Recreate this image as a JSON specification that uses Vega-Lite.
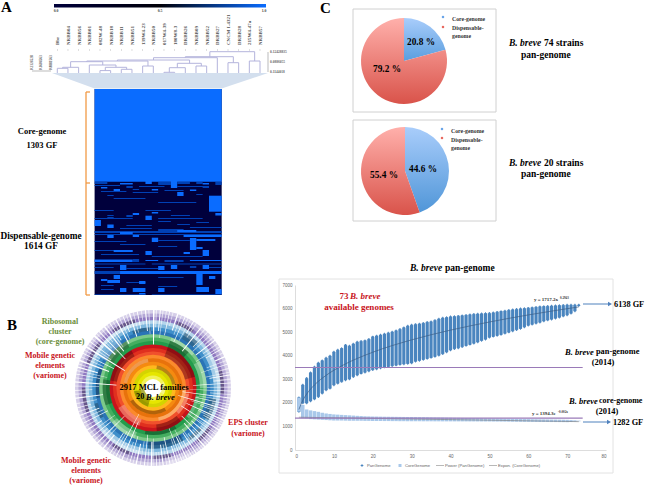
{"$schema":"https://vega.github.io/schema/vega-lite/v6.json","width":645,"height":485,"padding":0,"autosize":{"type":"none"},"background":"white",
"config":{"view":{"stroke":null},"text":{"font":"Liberation Serif","fontWeight":"bold"}},
"resolve":{"scale":{"x":"independent","y":"independent","theta":"independent","radius":"independent","color":"independent"},"axis":{"x":"independent","y":"independent"}},
"datasets":{"tree":[{"a":0,"b":1,"h":4.7,"ha":0,"hb":0},{"a":0.5,"b":2,"h":5.7,"ha":4.7,"hb":0},{"a":4,"b":5,"h":2.4,"ha":0,"hb":0},{"a":6,"b":7,"h":3.7,"ha":0,"hb":0},{"a":4.5,"b":6.5,"h":5.7,"ha":2.4,"hb":3.7},{"a":3,"b":5.5,"h":8,"ha":0,"hb":5.7},{"a":1.25,"b":4.26,"h":11.3,"ha":5.7,"hb":8},{"a":8,"b":9,"h":7,"ha":0,"hb":0},{"a":10,"b":11,"h":0.7,"ha":0,"hb":0},{"a":10.5,"b":12,"h":5.3,"ha":0.7,"hb":0},{"a":13,"b":14,"h":7,"ha":0,"hb":0},{"a":11.25,"b":13.5,"h":9.7,"ha":5.3,"hb":7},{"a":2.76,"b":8.5,"h":12,"ha":11.3,"hb":7},{"a":5.63,"b":12.4,"h":13,"ha":12,"hb":9.7},{"a":9.02,"b":15,"h":15.3,"ha":13,"hb":0},{"a":16,"b":17,"h":10.3,"ha":0,"hb":0},{"a":18,"b":19,"h":12,"ha":0,"hb":0},{"a":12,"b":16.5,"h":16.3,"ha":15.3,"hb":10.3},{"a":14.3,"b":18.5,"h":21.3,"ha":16.3,"hb":12}],
"strains":[{"c":0,"t":"Bbr"},{"c":1,"t":"NRBB04"},{"c":2,"t":"NRBB56"},{"c":3,"t":"NRBB01"},{"c":4,"t":"082W-48"},{"c":5,"t":"NRBB18"},{"c":6,"t":"NRBB11"},{"c":7,"t":"NRBB51"},{"c":8,"t":"139W4-23"},{"c":9,"t":"NRBB50"},{"c":10,"t":"017W4-39"},{"c":11,"t":"180W8-3"},{"c":12,"t":"DRBB26"},{"c":13,"t":"NRBB09"},{"c":14,"t":"NRBB52"},{"c":15,"t":"DRBB27"},{"c":16,"t":"CNCM I-4321"},{"c":17,"t":"DRBB28"},{"c":18,"t":"215W4-47a"},{"c":19,"t":"NRBB57"}],
"pan":[{"x":1,"lo":1630,"hi":2220,"cl":1630,"ch":2220},{"x":2,"lo":1990,"hi":2760,"cl":1350,"ch":1910},{"x":3,"lo":1990,"hi":3040,"cl":1340,"ch":1720},{"x":4,"lo":2080,"hi":3280,"cl":1310,"ch":1680},{"x":5,"lo":2160,"hi":3520,"cl":1300,"ch":1650},{"x":6,"lo":2260,"hi":3690,"cl":1290,"ch":1620},{"x":7,"lo":2410,"hi":3790,"cl":1280,"ch":1580},{"x":8,"lo":2545,"hi":3900,"cl":1270,"ch":1550},{"x":9,"lo":2615,"hi":3990,"cl":1260,"ch":1530},{"x":10,"lo":2760,"hi":4160,"cl":1250,"ch":1510},{"x":11,"lo":2830,"hi":4240,"cl":1250,"ch":1500},{"x":12,"lo":2900,"hi":4310,"cl":1250,"ch":1490},{"x":13,"lo":2970,"hi":4450,"cl":1245,"ch":1480},{"x":14,"lo":3010,"hi":4410,"cl":1240,"ch":1470},{"x":15,"lo":3110,"hi":4500,"cl":1240,"ch":1460},{"x":16,"lo":3180,"hi":4580,"cl":1240,"ch":1450},{"x":17,"lo":3250,"hi":4610,"cl":1240,"ch":1440},{"x":18,"lo":3300,"hi":4640,"cl":1235,"ch":1430},{"x":19,"lo":3350,"hi":4700,"cl":1235,"ch":1425},{"x":20,"lo":3400,"hi":4800,"cl":1230,"ch":1420},{"x":21,"lo":3440,"hi":4840,"cl":1230,"ch":1418},{"x":22,"lo":3480,"hi":4880,"cl":1230,"ch":1415},{"x":23,"lo":3520,"hi":4920,"cl":1228,"ch":1412},{"x":24,"lo":3540,"hi":4960,"cl":1228,"ch":1410},{"x":25,"lo":3570,"hi":5010,"cl":1225,"ch":1408},{"x":26,"lo":3600,"hi":5060,"cl":1225,"ch":1406},{"x":27,"lo":3630,"hi":5120,"cl":1222,"ch":1404},{"x":28,"lo":3650,"hi":5190,"cl":1222,"ch":1402},{"x":29,"lo":3670,"hi":5260,"cl":1220,"ch":1400},{"x":30,"lo":3690,"hi":5300,"cl":1220,"ch":1400},{"x":31,"lo":3760,"hi":5330,"cl":1220,"ch":1396},{"x":32,"lo":3800,"hi":5350,"cl":1220,"ch":1394},{"x":33,"lo":3840,"hi":5380,"cl":1218,"ch":1392},{"x":34,"lo":3880,"hi":5420,"cl":1218,"ch":1388},{"x":35,"lo":3920,"hi":5440,"cl":1218,"ch":1385},{"x":36,"lo":3970,"hi":5500,"cl":1216,"ch":1382},{"x":37,"lo":4020,"hi":5560,"cl":1216,"ch":1380},{"x":38,"lo":4080,"hi":5600,"cl":1215,"ch":1376},{"x":39,"lo":4160,"hi":5620,"cl":1215,"ch":1372},{"x":40,"lo":4240,"hi":5650,"cl":1215,"ch":1370},{"x":41,"lo":4290,"hi":5660,"cl":1214,"ch":1366},{"x":42,"lo":4330,"hi":5680,"cl":1214,"ch":1364},{"x":43,"lo":4380,"hi":5700,"cl":1213,"ch":1360},{"x":44,"lo":4430,"hi":5720,"cl":1213,"ch":1358},{"x":45,"lo":4480,"hi":5740,"cl":1212,"ch":1355},{"x":46,"lo":4530,"hi":5760,"cl":1212,"ch":1352},{"x":47,"lo":4580,"hi":5770,"cl":1211,"ch":1350},{"x":48,"lo":4640,"hi":5780,"cl":1211,"ch":1346},{"x":49,"lo":4700,"hi":5790,"cl":1210,"ch":1343},{"x":50,"lo":4780,"hi":5800,"cl":1210,"ch":1340},{"x":51,"lo":4820,"hi":5820,"cl":1208,"ch":1336},{"x":52,"lo":4860,"hi":5850,"cl":1206,"ch":1334},{"x":53,"lo":4900,"hi":5880,"cl":1205,"ch":1330},{"x":54,"lo":4950,"hi":5900,"cl":1204,"ch":1328},{"x":55,"lo":5000,"hi":5930,"cl":1202,"ch":1325},{"x":56,"lo":5050,"hi":5950,"cl":1200,"ch":1322},{"x":57,"lo":5100,"hi":5970,"cl":1198,"ch":1320},{"x":58,"lo":5150,"hi":5990,"cl":1196,"ch":1316},{"x":59,"lo":5220,"hi":6000,"cl":1195,"ch":1313},{"x":60,"lo":5290,"hi":6020,"cl":1194,"ch":1310},{"x":61,"lo":5330,"hi":6040,"cl":1192,"ch":1306},{"x":62,"lo":5380,"hi":6060,"cl":1190,"ch":1304},{"x":63,"lo":5420,"hi":6080,"cl":1189,"ch":1300},{"x":64,"lo":5470,"hi":6090,"cl":1188,"ch":1298},{"x":65,"lo":5510,"hi":6100,"cl":1187,"ch":1295},{"x":66,"lo":5550,"hi":6110,"cl":1186,"ch":1292},{"x":67,"lo":5590,"hi":6120,"cl":1185,"ch":1290},{"x":68,"lo":5630,"hi":6130,"cl":1184,"ch":1287},{"x":69,"lo":5680,"hi":6140,"cl":1182,"ch":1284},{"x":70,"lo":5730,"hi":6150,"cl":1180,"ch":1280},{"x":71,"lo":5800,"hi":6150,"cl":1190,"ch":1270},{"x":72,"lo":5900,"hi":6150,"cl":1200,"ch":1260},{"x":73,"lo":6125,"hi":6150,"cl":1215,"ch":1245}]},
"layer":[
{"data":{"values":[{"u":353,"p":496,"v":9,"w":112},{"u":353,"p":496,"v":120,"w":221}]},"mark":{"type":"rect","fill":null,"stroke":"#d0d0d0","strokeWidth":1},"encoding":{"x":{"field":"u","type":"quantitative","scale":{"domain":[0,645],"range":[0,645]},"axis":null},"x2":{"field":"p"},"y":{"field":"v","type":"quantitative","scale":{"domain":[0,485],"range":[0,485]},"axis":null},"y2":{"field":"w"}}},
{"data":{"values":[{"u":279,"p":613,"v":279,"w":473}]},"mark":{"type":"rect","fill":null,"stroke":"#e2e2e2","strokeWidth":1},"encoding":{"x":{"field":"u","type":"quantitative","scale":{"domain":[0,645],"range":[0,645]},"axis":null},"x2":{"field":"p"},"y":{"field":"v","type":"quantitative","scale":{"domain":[0,485],"range":[0,485]},"axis":null},"y2":{"field":"w"}}},
{"data":{"values":[{"u":54,"p":266,"v":4,"w":7.5}]},"mark":{"type":"rect","color":{"gradient":"linear","x1":0,"x2":1,"y1":0,"y2":0,"stops":[{"offset":0,"color":"#00003a"},{"offset":0.5,"color":"#000008"},{"offset":1,"color":"#0a6cff"}]}},"encoding":{"x":{"field":"u","type":"quantitative","scale":{"domain":[0,645],"range":[0,645]},"axis":null},"x2":{"field":"p"},"y":{"field":"v","type":"quantitative","scale":{"domain":[0,485],"range":[0,485]},"axis":null},"y2":{"field":"w"}}},
{"data":{"values":[{"u":52,"v":73,"w":73},{"u":94.6,"v":73,"w":88.5},{"u":221.7,"v":73,"w":88.5},{"u":268,"v":73,"w":73}]},"mark":{"type":"area","color":"#d3dfee"},"encoding":{"x":{"field":"u","type":"quantitative","scale":{"domain":[0,645],"range":[0,645]},"axis":null},"y":{"field":"v","type":"quantitative","scale":{"domain":[0,485],"range":[0,485]},"axis":null},"y2":{"field":"w"}}},
{"data":{"values":[
{"c":0,"d":20,"r":0,"s":206,"l":"d"},{"c":0,"d":20,"r":0,"s":92.7,"l":"h"},
{"c":0,"d":2,"r":92.7,"s":95,"l":"m"},{"c":4,"d":6,"r":94,"s":95.5,"l":"h"},{"c":10,"d":12,"r":93,"s":96,"l":"m"},{"c":12,"d":13,"r":92,"s":99,"l":"h"},{"c":13,"d":15,"r":93,"s":95,"l":"m"},{"c":8,"d":9,"r":92,"s":95,"l":"h"},{"c":16,"d":17,"r":93,"s":95,"l":"m"},{"c":19,"d":20,"r":93,"s":96,"l":"m"},
{"c":1,"d":2,"r":98,"s":99.5,"l":"h"},{"c":3,"d":4,"r":100,"s":102,"l":"h"},{"c":5,"d":6,"r":97,"s":99,"l":"m"},{"c":6,"d":7,"r":100,"s":101,"l":"m"},{"c":9,"d":10,"r":100,"s":101.5,"l":"h"},{"c":15,"d":16,"r":100.5,"s":102,"l":"h"},{"c":17,"d":18,"r":98,"s":99,"l":"m"},{"c":17,"d":18,"r":94,"s":95.5,"l":"h"},
{"c":13,"d":14,"r":103,"s":107,"l":"h"},{"c":2,"d":3,"r":106,"s":107,"l":"m"},{"c":6,"d":10,"r":103,"s":104,"l":"m"},{"c":16,"d":17,"r":105,"s":106,"l":"m"},{"c":18,"d":20,"r":106.7,"s":122.7,"l":"h"},
{"c":0,"d":3,"r":121,"s":122,"l":"m"},{"c":8,"d":12,"r":121,"s":122,"l":"m"},{"c":6,"d":7,"r":124,"s":126,"l":"h"},{"c":8,"d":9,"r":126.7,"s":131,"l":"h"},{"c":9,"d":10,"r":123,"s":124.5,"l":"h"},{"c":19,"d":20,"r":124,"s":126.5,"l":"h"},{"c":2,"d":3,"r":126,"s":127,"l":"m"},{"c":12,"d":15,"r":126,"s":127,"l":"m"},{"c":5,"d":6,"r":126,"s":128,"l":"m"},
{"c":0,"d":1,"r":131,"s":137,"l":"h"},{"c":2,"d":3,"r":135.5,"s":139,"l":"h"},{"c":2,"d":3,"r":128,"s":129,"l":"m"},{"c":10,"d":12,"r":132,"s":133,"l":"m"},{"c":13,"d":15,"r":135,"s":136,"l":"m"},{"c":5,"d":9,"r":136,"s":137,"l":"m"},{"c":16,"d":18,"r":133,"s":134,"l":"m"},
{"c":10,"d":14,"r":140,"s":142,"l":"m"},{"c":0,"d":20,"r":142,"s":144,"l":"m"},{"c":4,"d":6,"r":143,"s":145,"l":"h"},{"c":13,"d":16,"r":141,"s":143,"l":"h"},{"c":0,"d":20,"r":145,"s":146,"l":"m"},
{"c":0,"d":4,"r":96,"s":97,"l":"m"},{"c":7,"d":11,"r":97,"s":98,"l":"m"},{"c":13,"d":18,"r":97,"s":98,"l":"m"},{"c":1,"d":5,"r":102,"s":103,"l":"m"},{"c":11,"d":14,"r":101,"s":102,"l":"m"},{"c":3,"d":8,"r":109,"s":110,"l":"m"},{"c":10,"d":16,"r":113,"s":114,"l":"m"},{"c":0,"d":6,"r":129,"s":130,"l":"m"},{"c":10,"d":17,"r":129,"s":130,"l":"m"},{"c":4,"d":9,"r":139,"s":140,"l":"m"},{"c":15,"d":20,"r":138,"s":139,"l":"m"},
{"c":2,"d":3,"r":146,"s":149,"l":"h"},{"c":6,"d":7,"r":146,"s":148,"l":"h"},{"c":9,"d":10,"r":148.7,"s":153,"l":"h"},{"c":14,"d":20,"r":146,"s":148,"l":"h"},{"c":15,"d":16,"r":149,"s":161,"l":"h"},{"c":16,"d":19,"r":150,"s":152,"l":"h"},{"c":16,"d":17,"r":158,"s":160,"l":"h"},
{"c":0,"d":4,"r":161,"s":162,"l":"m"},{"c":3,"d":6,"r":161,"s":163,"l":"h"},{"c":8,"d":9,"r":162,"s":166,"l":"h"},{"c":17,"d":18,"r":161,"s":167,"l":"h"},{"c":14,"d":15,"r":163,"s":165,"l":"h"},{"c":4,"d":8,"r":155,"s":156,"l":"m"},{"c":10,"d":13,"r":157,"s":158,"l":"m"},
{"c":0,"d":5,"r":152,"s":153,"l":"m"},{"c":10,"d":15,"r":151,"s":152,"l":"m"},{"c":1,"d":7,"r":165,"s":166,"l":"m"},{"c":9,"d":17,"r":167,"s":168,"l":"m"},{"c":0,"d":8,"r":174.5,"s":175.5,"l":"m"},{"c":9,"d":20,"r":174.5,"s":175.5,"l":"m"},{"c":5,"d":10,"r":179,"s":180,"l":"m"},{"c":18,"d":20,"r":178,"s":179,"l":"m"},{"c":0,"d":3,"r":178,"s":179,"l":"m"},
{"c":0,"d":6,"r":170.5,"s":173,"l":"h"},{"c":6,"d":7,"r":170,"s":173,"l":"m"},{"c":8,"d":10,"r":171,"s":172,"l":"h"},{"c":11,"d":14,"r":171,"s":173,"l":"m"},{"c":15,"d":20,"r":171,"s":172,"l":"h"},
{"c":4,"d":5,"r":176,"s":181,"l":"h"},{"c":10,"d":11,"r":177,"s":181,"l":"h"},{"c":12,"d":13,"r":176,"s":180,"l":"h"},{"c":15,"d":16,"r":177,"s":179,"l":"m"},{"c":17,"d":18,"r":176,"s":180,"l":"h"},
{"c":0,"d":4,"r":182,"s":185,"l":"m"},{"c":4,"d":20,"r":182,"s":185,"l":"h"},{"c":16,"d":17,"r":185,"s":196,"l":"h"},{"c":3,"d":4,"r":186,"s":190,"l":"h"},{"c":18,"d":19,"r":187,"s":190,"l":"h"},{"c":1,"d":2,"r":190,"s":192,"l":"h"},{"c":2,"d":4,"r":191,"s":194,"l":"h"},{"c":5,"d":8,"r":193,"s":194,"l":"m"},{"c":10,"d":14,"r":188,"s":189,"l":"m"},{"c":7,"d":8,"r":192,"s":195,"l":"h"},
{"c":4,"d":5,"r":199,"s":203,"l":"h"},{"c":6,"d":8,"r":199,"s":203,"l":"h"},{"c":10,"d":11,"r":199,"s":203,"l":"h"},{"c":1,"d":3,"r":200,"s":201,"l":"m"},{"c":16,"d":18,"r":198,"s":203,"l":"h"},{"c":19,"d":20,"r":200,"s":205,"l":"h"},{"c":7,"d":8,"r":204,"s":206,"l":"h"},{"c":1,"d":3,"r":196,"s":197,"l":"m"},{"c":10,"d":13,"r":197,"s":198,"l":"m"},{"c":0,"d":8,"r":205.2,"s":206,"l":"m"},{"c":9,"d":20,"r":205.2,"s":206,"l":"m"}
]},"mark":{"type":"rect"},"encoding":{"x":{"field":"c","type":"quantitative","scale":{"domain":[0,20],"range":[94.6,221.7]},"axis":null},"x2":{"field":"d"},"y":{"field":"r","type":"quantitative","scale":{"domain":[0,206],"range":[89,295]},"axis":null},"y2":{"field":"s"},"color":{"field":"l","type":"nominal","legend":null,"sort":null,"scale":{"domain":["d","m","h"],"range":["#00003c","#0040b4","#0a6cff"]}}}},
{"data":{"values":[{"u":86,"p":86,"v":92,"w":295},{"u":86,"p":90,"v":92,"w":92},{"u":86,"p":90,"v":183,"w":183},{"u":86,"p":90,"v":295,"w":295}]},"mark":{"type":"rule","color":"#f29a45","strokeWidth":1.3},"encoding":{"x":{"field":"u","type":"quantitative","scale":{"domain":[0,645],"range":[0,645]},"axis":null},"x2":{"field":"p"},"y":{"field":"v","type":"quantitative","scale":{"domain":[0,485],"range":[0,485]},"axis":null},"y2":{"field":"w"}}},
{"data":{"values":[{"u":32,"p":51,"v":71,"w":71},{"u":268,"p":268,"v":52,"w":72}]},"mark":{"type":"rule","color":"#bbbbbb","strokeWidth":1},"encoding":{"x":{"field":"u","type":"quantitative","scale":{"domain":[0,645],"range":[0,645]},"axis":null},"x2":{"field":"p"},"y":{"field":"v","type":"quantitative","scale":{"domain":[0,485],"range":[0,485]},"axis":null},"y2":{"field":"w"}}},
{"data":{"name":"tree"},"mark":{"type":"rule","color":"#b4b4dc","strokeWidth":1},"encoding":{"x":{"field":"a","type":"quantitative","scale":{"domain":[0,19],"range":[57.3,260]},"axis":null},"x2":{"field":"b"},"y":{"field":"h","type":"quantitative","scale":{"domain":[0,24],"range":[73,49]},"axis":null}}},
{"data":{"name":"tree"},"mark":{"type":"rule","color":"#b4b4dc","strokeWidth":1},"encoding":{"x":{"field":"a","type":"quantitative","scale":{"domain":[0,19],"range":[57.3,260]},"axis":null},"y":{"field":"h","type":"quantitative","scale":{"domain":[0,24],"range":[73,49]},"axis":null},"y2":{"field":"ha"}}},
{"data":{"name":"tree"},"mark":{"type":"rule","color":"#b4b4dc","strokeWidth":1},"encoding":{"x":{"field":"b","type":"quantitative","scale":{"domain":[0,19],"range":[57.3,260]},"axis":null},"y":{"field":"h","type":"quantitative","scale":{"domain":[0,24],"range":[73,49]},"axis":null},"y2":{"field":"hb"}}},
{"data":{"name":"strains"},"mark":{"type":"text","angle":270,"align":"left","baseline":"middle","fontSize":5,"color":"#555555"},"encoding":{"x":{"field":"c","type":"quantitative","scale":{"domain":[0,19],"range":[57.3,260]},"axis":null},"y":{"datum":45,"type":"quantitative","scale":{"domain":[0,485],"range":[0,485]},"axis":null},"text":{"field":"t"}}},
{"data":{"name":"strains"},"mark":{"type":"tick","orient":"vertical","size":1.5,"thickness":0.6,"color":"#999999"},"encoding":{"x":{"field":"c","type":"quantitative","scale":{"domain":[0,19],"range":[57.3,260]},"axis":null},"y":{"datum":50,"type":"quantitative","scale":{"domain":[0,485],"range":[0,485]},"axis":null}}},
{"data":{"values":[{"i":"20","t0":-3,"t1":20,"a":0,"b":360},{"i":"19","t0":-3,"t1":19,"a":0,"b":360},{"i":"18","t0":-3,"t1":18,"a":0,"b":360},{"i":"17","t0":-3,"t1":17,"a":0,"b":360},{"i":"16","t0":-3,"t1":16,"a":0,"b":360},{"i":"15","t0":-3,"t1":15,"a":0,"b":360},{"i":"14","t0":-3,"t1":14,"a":0,"b":360},{"i":"13","t0":-3,"t1":13,"a":0,"b":360},{"i":"12","t0":-3,"t1":12,"a":0,"b":360},{"i":"11","t0":-3,"t1":11,"a":0,"b":360},{"i":"10","t0":-3,"t1":10,"a":0,"b":360},{"i":"09","t0":-3,"t1":9,"a":0,"b":360},{"i":"08","t0":-3,"t1":8,"a":0,"b":360},{"i":"07","t0":-3,"t1":7,"a":0,"b":360},{"i":"06","t0":-3,"t1":6,"a":0,"b":360},{"i":"05","t0":-3,"t1":5,"a":0,"b":360},{"i":"04","t0":-3,"t1":4,"a":0,"b":360},{"i":"03","t0":-3,"t1":3,"a":0,"b":360},{"i":"02","t0":-3,"t1":2,"a":0,"b":360},{"i":"01","t0":-3,"t1":1,"a":0,"b":360},{"i":"00","t0":-3,"t1":0,"a":0,"b":360}]},"mark":{"type":"arc"},"encoding":{"x":{"datum":153,"type":"quantitative","scale":{"domain":[0,645],"range":[0,645]},"axis":null},"y":{"datum":388,"type":"quantitative","scale":{"domain":[0,485],"range":[0,485]},"axis":null},"theta":{"field":"a","type":"quantitative","scale":{"domain":[0,360],"range":[0,6.2832]}},"theta2":{"field":"b"},"radius":{"field":"t1","type":"quantitative","scale":{"type":"linear","domain":[0,20],"range":[9,78]}},"radius2":{"field":"t0"},"color":{"field":"i","type":"nominal","legend":null,"scale":{"domain":["00","01","02","03","04","05","06","07","08","09","10","11","12","13","14","15","16","17","18","19","20"],"range":["#ffffff","#f2f25a","#e6e600","#d4d400","#ffb81e","#f58a10","#e8720c","#fb8a2c","#f0502c","#e0301f","#c8141c","#239c4c","#45ae60","#7cc98a","#2a74b6","#3f8fca","#7fb8de","#b5d6ec","#8e78c0","#b3a6d6","#d6cfe9"]}}}},
{"data":{"values":[{"t0":0,"t1":3,"a":195,"b":260,"k":"dark"},{"t0":0,"t1":1,"a":60,"b":120,"k":"light"},{"t0":3,"t1":4,"a":10,"b":80,"k":"dark"},{"t0":4,"t1":5,"a":150,"b":240,"k":"dark"},{"t0":5,"t1":6,"a":280,"b":350,"k":"light"},{"t0":6,"t1":7,"a":90,"b":170,"k":"light"},{"t0":7,"t1":10,"a":20,"b":75,"k":"dark"},{"t0":8,"t1":10,"a":140,"b":175,"k":"dark"},{"t0":7,"t1":9,"a":200,"b":240,"k":"light"},{"t0":8,"t1":10,"a":280,"b":330,"k":"dark"},{"t0":7,"t1":8,"a":100,"b":135,"k":"light"},{"t0":10,"t1":12,"a":250,"b":280,"k":"dark"},{"t0":10,"t1":11,"a":150,"b":190,"k":"dark"},{"t0":11,"t1":13,"a":300,"b":330,"k":"dark"},{"t0":11,"t1":13,"a":60,"b":90,"k":"light"},{"t0":12,"t1":13,"a":20,"b":50,"k":"light"},{"t0":10,"t1":12,"a":20,"b":45,"k":"dark"},{"t0":11,"t1":13,"a":200,"b":230,"k":"light"},{"t0":10,"t1":11,"a":100,"b":130,"k":"light"},{"t0":13,"t1":15,"a":150,"b":185,"k":"dark"},{"t0":14,"t1":16,"a":30,"b":45,"k":"dark"},{"t0":13,"t1":14,"a":260,"b":290,"k":"dark"},{"t0":15,"t1":17,"a":60,"b":85,"k":"light"},{"t0":14,"t1":15,"a":340,"b":358,"k":"dark"},{"t0":15,"t1":17,"a":190,"b":230,"k":"light"},{"t0":13,"t1":15,"a":300,"b":325,"k":"light"},{"t0":14,"t1":16,"a":100,"b":120,"k":"dark"},{"t0":15,"t1":16,"a":130,"b":145,"k":"dark"},{"t0":16,"t1":17,"a":300,"b":350,"k":"light"},{"t0":14,"t1":15,"a":240,"b":255,"k":"dark"},{"t0":17,"t1":18,"a":20,"b":35,"k":"dark"},{"t0":17,"t1":18,"a":75,"b":95,"k":"dark"},{"t0":17,"t1":18,"a":125,"b":140,"k":"dark"},{"t0":17,"t1":18,"a":165,"b":180,"k":"dark"},{"t0":17,"t1":18,"a":200,"b":215,"k":"dark"},{"t0":17,"t1":18,"a":250,"b":270,"k":"dark"},{"t0":17,"t1":18,"a":290,"b":310,"k":"dark"},{"t0":17,"t1":18,"a":325,"b":345,"k":"dark"},{"t0":18,"t1":20,"a":150,"b":170,"k":"light"}]},"mark":{"type":"arc","opacity":0.28},"encoding":{"x":{"datum":153,"type":"quantitative","scale":{"domain":[0,645],"range":[0,645]},"axis":null},"y":{"datum":388,"type":"quantitative","scale":{"domain":[0,485],"range":[0,485]},"axis":null},"theta":{"field":"a","type":"quantitative","scale":{"domain":[0,360],"range":[0,6.2832]}},"theta2":{"field":"b"},"radius":{"field":"t1","type":"quantitative","scale":{"type":"linear","domain":[0,20],"range":[9,78]}},"radius2":{"field":"t0"},"color":{"field":"k","type":"nominal","legend":null,"scale":{"domain":["dark","light"],"range":["#000000","#ffffff"]}}}},
{"data":{"values":[{"a":2,"b":3,"t":15,"o":20.3},{"a":7,"b":7.8,"t":12,"o":20.3},{"a":9.5,"b":10.3,"t":17,"o":20.3},{"a":14.5,"b":15.2,"t":16,"o":20.3},{"a":21,"b":21.8,"t":14,"o":20.3},{"a":26,"b":27,"t":17,"o":20.3},{"a":28.5,"b":29.2,"t":13,"o":20.3},{"a":33.5,"b":34.3,"t":15,"o":20.3},{"a":41,"b":42,"t":16,"o":20.3},{"a":47,"b":47.8,"t":13,"o":20.3},{"a":49.5,"b":50.5,"t":17,"o":20.3},{"a":55,"b":56,"t":15,"o":20.3},{"a":58,"b":58.7,"t":12,"o":20.3},{"a":63,"b":63.8,"t":16,"o":20.3},{"a":69,"b":69.8,"t":14,"o":20.3},{"a":75,"b":76,"t":16,"o":20.3},{"a":78,"b":78.7,"t":13,"o":20.3},{"a":83,"b":84,"t":15,"o":20.3},{"a":89,"b":89.8,"t":13,"o":20.3},{"a":94.5,"b":95.3,"t":14,"o":20.3},{"a":99.5,"b":100.2,"t":11,"o":20.3},{"a":104,"b":104.8,"t":15,"o":20.3},{"a":108,"b":108.8,"t":9,"o":20.3},{"a":112,"b":112.8,"t":15,"o":20.3},{"a":116,"b":116.8,"t":12,"o":20.3},{"a":120,"b":120.8,"t":16,"o":20.3},{"a":124.5,"b":125.2,"t":13,"o":20.3},{"a":128,"b":128.8,"t":15,"o":20.3},{"a":132,"b":132.8,"t":16,"o":20.3},{"a":136,"b":136.8,"t":14,"o":20.3},{"a":140,"b":140.8,"t":16,"o":20.3},{"a":144,"b":144.8,"t":12,"o":20.3},{"a":148,"b":148.8,"t":16,"o":20.3},{"a":152,"b":152.8,"t":11,"o":20.3},{"a":156,"b":156.8,"t":15,"o":20.3},{"a":160,"b":160.8,"t":13,"o":20.3},{"a":164.5,"b":165.3,"t":17,"o":20.3},{"a":169.5,"b":170.3,"t":14,"o":20.3},{"a":174.5,"b":175.3,"t":16,"o":20.3},{"a":179,"b":179.8,"t":12,"o":20.3},{"a":183.5,"b":184.3,"t":15,"o":20.3},{"a":189,"b":189.8,"t":13,"o":20.3},{"a":194.5,"b":195.3,"t":16,"o":20.3},{"a":199.5,"b":200.3,"t":14,"o":20.3},{"a":205.5,"b":206.3,"t":15,"o":20.3},{"a":210.5,"b":211.3,"t":12,"o":20.3},{"a":216,"b":216.8,"t":16,"o":20.3},{"a":222,"b":222.8,"t":13,"o":20.3},{"a":228,"b":228.8,"t":15,"o":20.3},{"a":234,"b":234.8,"t":11,"o":20.3},{"a":240,"b":240.8,"t":16,"o":20.3},{"a":246,"b":246.8,"t":13,"o":20.3},{"a":252,"b":252.8,"t":15,"o":20.3},{"a":258,"b":258.8,"t":14,"o":20.3},{"a":265,"b":265.8,"t":16,"o":20.3},{"a":271,"b":271.8,"t":13,"o":20.3},{"a":277,"b":277.8,"t":15,"o":20.3},{"a":282.5,"b":283.3,"t":11,"o":20.3},{"a":287.5,"b":288.3,"t":16,"o":20.3},{"a":293,"b":293.8,"t":13,"o":20.3},{"a":298.5,"b":299.3,"t":15,"o":20.3},{"a":303.5,"b":304.3,"t":12,"o":20.3},{"a":308.5,"b":309.3,"t":16,"o":20.3},{"a":313.5,"b":314.3,"t":14,"o":20.3},{"a":318.5,"b":319.3,"t":15,"o":20.3},{"a":323.5,"b":324.3,"t":12,"o":20.3},{"a":328.5,"b":329.3,"t":16,"o":20.3},{"a":334,"b":334.8,"t":13,"o":20.3},{"a":339.5,"b":340.3,"t":16,"o":20.3},{"a":345,"b":345.8,"t":14,"o":20.3},{"a":351,"b":351.8,"t":16,"o":20.3},{"a":356.5,"b":357.3,"t":13,"o":20.3}]},"mark":{"type":"arc","color":"white","opacity":0.6},"encoding":{"x":{"datum":153,"type":"quantitative","scale":{"domain":[0,645],"range":[0,645]},"axis":null},"y":{"datum":388,"type":"quantitative","scale":{"domain":[0,485],"range":[0,485]},"axis":null},"theta":{"field":"a","type":"quantitative","scale":{"domain":[0,360],"range":[0,6.2832]}},"theta2":{"field":"b"},"radius":{"field":"o","type":"quantitative","scale":{"type":"linear","domain":[0,20],"range":[9,78]}},"radius2":{"field":"t"}}},
{"data":{"values":[{"a":0,"b":1.2,"t":10,"o":20.3},{"a":180.5,"b":181.7,"t":13,"o":20.3},{"a":5,"b":5.8,"t":14,"o":20.3},{"a":12,"b":12.6,"t":13,"o":20.3},{"a":18,"b":19,"t":15,"o":20.3},{"a":24,"b":24.6,"t":12,"o":20.3},{"a":31,"b":31.7,"t":16,"o":20.3},{"a":38,"b":39,"t":11,"o":20.3},{"a":44,"b":44.5,"t":14,"o":20.3},{"a":52,"b":52.8,"t":13,"o":20.3},{"a":60,"b":60.6,"t":15,"o":20.3},{"a":66,"b":67,"t":17,"o":20.3},{"a":72,"b":72.5,"t":12,"o":20.3},{"a":80,"b":80.7,"t":14,"o":20.3},{"a":86,"b":86.6,"t":9,"o":20.3},{"a":92,"b":92.5,"t":8,"o":20.3},{"a":97,"b":97.9,"t":6,"o":20.3},{"a":102,"b":102.6,"t":10,"o":20.3},{"a":106,"b":106.9,"t":5,"o":20.3},{"a":110,"b":110.6,"t":12,"o":20.3},{"a":114,"b":115,"t":8,"o":20.3},{"a":118,"b":118.6,"t":14,"o":20.3},{"a":122,"b":123,"t":7,"o":20.3},{"a":126,"b":126.6,"t":10,"o":20.3},{"a":130,"b":130.9,"t":12,"o":20.3},{"a":134,"b":134.7,"t":9,"o":20.3},{"a":138,"b":139.1,"t":11,"o":20.3},{"a":142,"b":142.6,"t":14,"o":20.3},{"a":146,"b":146.8,"t":13,"o":20.3},{"a":150,"b":150.6,"t":15,"o":20.3},{"a":154,"b":154.9,"t":13,"o":20.3},{"a":158,"b":158.6,"t":10,"o":20.3},{"a":162,"b":162.8,"t":15,"o":20.3},{"a":167,"b":167.7,"t":12,"o":20.3},{"a":172,"b":172.9,"t":14,"o":20.3},{"a":177,"b":177.6,"t":16,"o":20.3},{"a":186,"b":186.7,"t":11,"o":20.3},{"a":192,"b":193,"t":14,"o":20.3},{"a":197,"b":197.6,"t":12,"o":20.3},{"a":203,"b":203.9,"t":8,"o":20.3},{"a":208,"b":208.7,"t":6,"o":20.3},{"a":213,"b":213.6,"t":13,"o":20.3},{"a":219,"b":220,"t":15,"o":20.3},{"a":225,"b":225.8,"t":9,"o":20.3},{"a":231,"b":231.6,"t":13,"o":20.3},{"a":237,"b":237.9,"t":15,"o":20.3},{"a":243,"b":243.6,"t":12,"o":20.3},{"a":249,"b":249.8,"t":14,"o":20.3},{"a":255,"b":255.6,"t":16,"o":20.3},{"a":262,"b":262.9,"t":12,"o":20.3},{"a":268,"b":268.6,"t":15,"o":20.3},{"a":274,"b":274.9,"t":8,"o":20.3},{"a":280,"b":280.5,"t":13,"o":20.3},{"a":285,"b":285.9,"t":14,"o":20.3},{"a":290,"b":291.2,"t":11,"o":20.3},{"a":296,"b":296.7,"t":10,"o":20.3},{"a":301,"b":302.3,"t":7,"o":20.3},{"a":306,"b":306.7,"t":13,"o":20.3},{"a":311,"b":312.4,"t":12,"o":20.3},{"a":316,"b":316.8,"t":9,"o":20.3},{"a":321,"b":322.2,"t":11,"o":20.3},{"a":326,"b":326.7,"t":14,"o":20.3},{"a":331,"b":332.1,"t":12,"o":20.3},{"a":337,"b":337.7,"t":15,"o":20.3},{"a":342,"b":343,"t":13,"o":20.3},{"a":348,"b":348.7,"t":15,"o":20.3},{"a":354,"b":354.9,"t":14,"o":20.3}]},"mark":{"type":"arc","color":"white"},"encoding":{"x":{"datum":153,"type":"quantitative","scale":{"domain":[0,645],"range":[0,645]},"axis":null},"y":{"datum":388,"type":"quantitative","scale":{"domain":[0,485],"range":[0,485]},"axis":null},"theta":{"field":"a","type":"quantitative","scale":{"domain":[0,360],"range":[0,6.2832]}},"theta2":{"field":"b"},"radius":{"field":"o","type":"quantitative","scale":{"type":"linear","domain":[0,20],"range":[9,78]}},"radius2":{"field":"t"}}},
{"data":{"values":[{"a":0,"b":20.8}]},"mark":{"type":"arc","radius":43,"color":{"gradient":"linear","x1":0,"x2":0,"y1":0,"y2":1,"stops":[{"offset":0,"color":"#a9cdfb"},{"offset":1,"color":"#5a9ede"}]}},"encoding":{"x":{"datum":404,"type":"quantitative","scale":{"domain":[0,645],"range":[0,645]},"axis":null},"y":{"datum":61,"type":"quantitative","scale":{"domain":[0,485],"range":[0,485]},"axis":null},"theta":{"field":"a","type":"quantitative","scale":{"domain":[0,100],"range":[0,6.2832]}},"theta2":{"field":"b"}}},
{"data":{"values":[{"a":20.8,"b":100}]},"mark":{"type":"arc","radius":43,"color":{"gradient":"linear","x1":0,"x2":0,"y1":0,"y2":1,"stops":[{"offset":0,"color":"#ffb0ab"},{"offset":1,"color":"#d9534a"}]}},"encoding":{"x":{"datum":404,"type":"quantitative","scale":{"domain":[0,645],"range":[0,645]},"axis":null},"y":{"datum":61,"type":"quantitative","scale":{"domain":[0,485],"range":[0,485]},"axis":null},"theta":{"field":"a","type":"quantitative","scale":{"domain":[0,100],"range":[0,6.2832]}},"theta2":{"field":"b"}}},
{"data":{"values":[{"a":0,"b":44.6}]},"mark":{"type":"arc","radius":44,"color":{"gradient":"linear","x1":0,"x2":0,"y1":0,"y2":1,"stops":[{"offset":0,"color":"#a9cdfb"},{"offset":1,"color":"#5096d8"}]}},"encoding":{"x":{"datum":405,"type":"quantitative","scale":{"domain":[0,645],"range":[0,645]},"axis":null},"y":{"datum":171,"type":"quantitative","scale":{"domain":[0,485],"range":[0,485]},"axis":null},"theta":{"field":"a","type":"quantitative","scale":{"domain":[0,100],"range":[0,6.2832]}},"theta2":{"field":"b"}}},
{"data":{"values":[{"a":44.6,"b":100}]},"mark":{"type":"arc","radius":44,"color":{"gradient":"linear","x1":0,"x2":0,"y1":0,"y2":1,"stops":[{"offset":0,"color":"#ffb0ab"},{"offset":1,"color":"#d9534a"}]}},"encoding":{"x":{"datum":405,"type":"quantitative","scale":{"domain":[0,645],"range":[0,645]},"axis":null},"y":{"datum":171,"type":"quantitative","scale":{"domain":[0,485],"range":[0,485]},"axis":null},"theta":{"field":"a","type":"quantitative","scale":{"domain":[0,100],"range":[0,6.2832]}},"theta2":{"field":"b"}}},
{"data":{"name":"pan"},"mark":{"type":"rule","color":"#4a85bf","strokeWidth":3.2},"encoding":{"x":{"field":"x","type":"quantitative","scale":{"domain":[0,80],"range":[295,606]},"axis":{"orient":"bottom","offset":-35,"title":null,"ticks":false,"grid":false,"format":"d","values":[0,10,20,30,40,50,60,70,80],"labelFont":"Liberation Sans","labelFontSize":4.5,"labelColor":"#666666","domainColor":"#dddddd","labelPadding":3}},"y":{"field":"lo","type":"quantitative","scale":{"domain":[0,7000],"range":[450,285]},"axis":{"orient":"left","offset":-295,"title":null,"ticks":false,"grid":false,"format":"d","values":[0,1000,2000,3000,4000,5000,6000,7000],"labelFont":"Liberation Sans","labelFontSize":4.5,"labelColor":"#666666","domainColor":"#dddddd","labelPadding":3}},"y2":{"field":"hi"}}},
{"data":{"name":"pan"},"mark":{"type":"point","shape":"cross","filled":true,"size":6,"color":"#4a85bf","opacity":1},"encoding":{"x":{"field":"x","type":"quantitative","scale":{"domain":[0,80],"range":[295,606]},"axis":null},"y":{"field":"lo","type":"quantitative","scale":{"domain":[0,7000],"range":[450,285]},"axis":null}}},
{"data":{"name":"pan"},"mark":{"type":"point","shape":"cross","filled":true,"size":6,"color":"#4a85bf","opacity":1},"encoding":{"x":{"field":"x","type":"quantitative","scale":{"domain":[0,80],"range":[295,606]},"axis":null},"y":{"field":"hi","type":"quantitative","scale":{"domain":[0,7000],"range":[450,285]},"axis":null}}},
{"data":{"name":"pan"},"mark":{"type":"rule","color":"#a9c8ea","strokeWidth":3.5},"encoding":{"x":{"field":"x","type":"quantitative","scale":{"domain":[0,80],"range":[295,606]},"axis":null},"y":{"field":"cl","type":"quantitative","scale":{"domain":[0,7000],"range":[450,285]},"axis":null},"y2":{"field":"ch"}}},
{"data":{"values":[{"x":1,"y":1717},{"x":2,"y":2105},{"x":3,"y":2374},{"x":5,"y":2758},{"x":8,"y":3167},{"x":12,"y":3568},{"x":20,"y":4147},{"x":30,"y":4672},{"x":40,"y":5085},{"x":50,"y":5430},{"x":60,"y":5730},{"x":73,"y":6070}]},"mark":{"type":"line","color":"#3c5f86","strokeWidth":0.7,"interpolate":"monotone"},"encoding":{"x":{"field":"x","type":"quantitative","scale":{"domain":[0,80],"range":[295,606]},"axis":null},"y":{"field":"y","type":"quantitative","scale":{"domain":[0,7000],"range":[450,285]},"axis":null}}},
{"data":{"values":[{"x":1,"y":1391},{"x":73,"y":1203}]},"mark":{"type":"line","color":"#777777","strokeWidth":0.6},"encoding":{"x":{"field":"x","type":"quantitative","scale":{"domain":[0,80],"range":[295,606]},"axis":null},"y":{"field":"y","type":"quantitative","scale":{"domain":[0,7000],"range":[450,285]},"axis":null}}},
{"data":{"values":[{"a":0,"b":74,"y":3500},{"a":0,"b":74,"y":1350}]},"mark":{"type":"rule","color":"#9a7ab8","strokeWidth":1.2},"encoding":{"x":{"field":"a","type":"quantitative","scale":{"domain":[0,80],"range":[295,606]},"axis":null},"x2":{"field":"b"},"y":{"field":"y","type":"quantitative","scale":{"domain":[0,7000],"range":[450,285]},"axis":null}}},
{"data":{"values":[{"u":583,"p":610,"v":304,"w":304},{"u":583,"p":608,"v":422,"w":422}]},"mark":{"type":"rule","color":"#4f81bd","strokeWidth":1},"encoding":{"x":{"field":"u","type":"quantitative","scale":{"domain":[0,645],"range":[0,645]},"axis":null},"x2":{"field":"p"},"y":{"field":"v","type":"quantitative","scale":{"domain":[0,485],"range":[0,485]},"axis":null},"y2":{"field":"w"}}},
{"data":{"values":[{"u":610,"v":304},{"u":609,"v":422}]},"mark":{"type":"point","shape":"triangle-right","filled":true,"size":22,"color":"#4f81bd","opacity":1},"encoding":{"x":{"field":"u","type":"quantitative","scale":{"domain":[0,645],"range":[0,645]},"axis":null},"y":{"field":"v","type":"quantitative","scale":{"domain":[0,485],"range":[0,485]},"axis":null}}},
{"data":{"values":[{"u":443,"v":17},{"u":442,"v":129}]},"mark":{"type":"point","shape":"square","filled":true,"size":5,"color":"#6aa5e8","opacity":1},"encoding":{"x":{"field":"u","type":"quantitative","scale":{"domain":[0,645],"range":[0,645]},"axis":null},"y":{"field":"v","type":"quantitative","scale":{"domain":[0,485],"range":[0,485]},"axis":null}}},
{"data":{"values":[{"u":443,"v":27},{"u":442,"v":138}]},"mark":{"type":"point","shape":"square","filled":true,"size":5,"color":"#e86a60","opacity":1},"encoding":{"x":{"field":"u","type":"quantitative","scale":{"domain":[0,645],"range":[0,645]},"axis":null},"y":{"field":"v","type":"quantitative","scale":{"domain":[0,485],"range":[0,485]},"axis":null}}},
{"data":{"values":[{"u":362,"v":465.5}]},"mark":{"type":"point","shape":"cross","filled":true,"size":7,"color":"#4a85bf","opacity":1},"encoding":{"x":{"field":"u","type":"quantitative","scale":{"domain":[0,645],"range":[0,645]},"axis":null},"y":{"field":"v","type":"quantitative","scale":{"domain":[0,485],"range":[0,485]},"axis":null}}},
{"data":{"values":[{"u":400,"v":465.5}]},"mark":{"type":"point","shape":"square","filled":true,"size":9,"color":"#a9c8ea","opacity":1},"encoding":{"x":{"field":"u","type":"quantitative","scale":{"domain":[0,645],"range":[0,645]},"axis":null},"y":{"field":"v","type":"quantitative","scale":{"domain":[0,485],"range":[0,485]},"axis":null}}},
{"data":{"values":[{"u":436,"p":444,"v":465.5,"w":465.5},{"u":489,"p":497,"v":465.5,"w":465.5}]},"mark":{"type":"rule","color":"#888888","strokeWidth":0.6},"encoding":{"x":{"field":"u","type":"quantitative","scale":{"domain":[0,645],"range":[0,645]},"axis":null},"x2":{"field":"p"},"y":{"field":"v","type":"quantitative","scale":{"domain":[0,485],"range":[0,485]},"axis":null},"y2":{"field":"w"}}},
{"data":{"values":[{"t":"PanGenome","u":367,"v":466},{"t":"CoreGenome","u":405,"v":466},{"t":"Power (PanGenome)","u":445,"v":466},{"t":"Expon. (CoreGenome)","u":498,"v":466}]},"mark":{"type":"text","font":"Liberation Sans","fontWeight":"normal","fontSize":4.2,"align":"left","baseline":"middle","color":"#666666"},"encoding":{"x":{"field":"u","type":"quantitative","scale":{"domain":[0,645],"range":[0,645]},"axis":null},"y":{"field":"v","type":"quantitative","scale":{"domain":[0,485],"range":[0,485]},"axis":null},"text":{"field":"t"}}},
{"data":{"values":[{"t":"0.0","u":56,"v":10.5},{"t":"0.5","u":160,"v":10.5},{"t":"1.0","u":264,"v":10.5}]},"mark":{"type":"text","fontSize":3.8,"align":"center","baseline":"middle","color":"#444444"},"encoding":{"x":{"field":"u","type":"quantitative","scale":{"domain":[0,645],"range":[0,645]},"axis":null},"y":{"field":"v","type":"quantitative","scale":{"domain":[0,485],"range":[0,485]},"axis":null},"text":{"field":"t"}}},
{"data":{"values":[{"t":"0.2326528","u":32,"v":70},{"t":"0.1604563","u":41,"v":70},{"t":"0.0881563","u":51,"v":70}]},"mark":{"type":"text","fontSize":3.5,"angle":270,"align":"left","baseline":"middle","color":"#666666"},"encoding":{"x":{"field":"u","type":"quantitative","scale":{"domain":[0,645],"range":[0,645]},"axis":null},"y":{"field":"v","type":"quantitative","scale":{"domain":[0,485],"range":[0,485]},"axis":null},"text":{"field":"t"}}},
{"data":{"values":[{"t":"0.12428835","u":270,"v":52},{"t":"0.0886055","u":270,"v":62},{"t":"0.1144018","u":270,"v":72}]},"mark":{"type":"text","fontSize":3.5,"align":"left","baseline":"middle","color":"#666666"},"encoding":{"x":{"field":"u","type":"quantitative","scale":{"domain":[0,645],"range":[0,645]},"axis":null},"y":{"field":"v","type":"quantitative","scale":{"domain":[0,485],"range":[0,485]},"axis":null},"text":{"field":"t"}}},
{"data":{"values":[{"t":"y = 1717.2x","u":534,"v":299},{"t":"y = 1394.3e","u":532,"v":413}]},"mark":{"type":"text","fontSize":5,"align":"left","baseline":"middle","color":"#333333"},"encoding":{"x":{"field":"u","type":"quantitative","scale":{"domain":[0,645],"range":[0,645]},"axis":null},"y":{"field":"v","type":"quantitative","scale":{"domain":[0,485],"range":[0,485]},"axis":null},"text":{"field":"t"}}},
{"data":{"values":[{"t":"0.2943","u":560,"v":297.5},{"t":"-0.002x","u":558,"v":411.5}]},"mark":{"type":"text","fontSize":3.2,"align":"left","baseline":"middle","color":"#333333"},"encoding":{"x":{"field":"u","type":"quantitative","scale":{"domain":[0,645],"range":[0,645]},"axis":null},"y":{"field":"v","type":"quantitative","scale":{"domain":[0,485],"range":[0,485]},"axis":null},"text":{"field":"t"}}},
{"data":{"values":[{"t":"Core-genome","u":452,"v":19},{"t":"Dispensable-","u":452,"v":28},{"t":"genome","u":452,"v":36},{"t":"Core-genome","u":451,"v":130.5},{"t":"Dispensable-","u":451,"v":140},{"t":"genome","u":451,"v":148}]},"mark":{"type":"text","fontSize":5.8,"align":"left","baseline":"middle","color":"#333333"},"encoding":{"x":{"field":"u","type":"quantitative","scale":{"domain":[0,645],"range":[0,645]},"axis":null},"y":{"field":"v","type":"quantitative","scale":{"domain":[0,485],"range":[0,485]},"axis":null},"text":{"field":"t"}}},
{"data":{"values":[{"t":"A","u":1,"v":7},{"t":"B","u":7,"v":325},{"t":"C","u":320,"v":7.5}]},"mark":{"type":"text","fontSize":15,"align":"left","baseline":"middle","color":"black"},"encoding":{"x":{"field":"u","type":"quantitative","scale":{"domain":[0,645],"range":[0,645]},"axis":null},"y":{"field":"v","type":"quantitative","scale":{"domain":[0,485],"range":[0,485]},"axis":null},"text":{"field":"t"}}},
{"data":{"values":[{"t":"Dispensable-genome","u":41,"v":236},{"t":"1614 GF","u":41,"v":246},{"t":"20.8 %","u":421,"v":42},{"t":"79.2 %","u":387,"v":69},{"t":"44.6 %","u":423,"v":169},{"t":"55.4 %","u":384,"v":175}]},"mark":{"type":"text","fontSize":9.3,"align":"center","baseline":"middle","color":"black"},"encoding":{"x":{"field":"u","type":"quantitative","scale":{"domain":[0,645],"range":[0,645]},"axis":null},"y":{"field":"v","type":"quantitative","scale":{"domain":[0,485],"range":[0,485]},"axis":null},"text":{"field":"t"}}},
{"data":{"values":[{"t":"Core-genome","u":42,"v":131},{"t":"1303 GF","u":42,"v":145},{"t":"2917 MCL families","u":154,"v":387},{"t":"(2014)","u":603,"v":362},{"t":"(2014)","u":607,"v":411}]},"mark":{"type":"text","fontSize":8.5,"align":"center","baseline":"middle","color":"black"},"encoding":{"x":{"field":"u","type":"quantitative","scale":{"domain":[0,645],"range":[0,645]},"axis":null},"y":{"field":"v","type":"quantitative","scale":{"domain":[0,485],"range":[0,485]},"axis":null},"text":{"field":"t"}}},
{"data":{"values":[{"t":"74 strains","u":544,"v":43},{"t":"pan-genome","u":521,"v":55},{"t":"20 strains","u":544,"v":163},{"t":"pan-genome","u":521,"v":174},{"t":"pan-genome","u":445,"v":268}]},"mark":{"type":"text","fontSize":9.5,"align":"left","baseline":"middle","color":"black"},"encoding":{"x":{"field":"u","type":"quantitative","scale":{"domain":[0,645],"range":[0,645]},"axis":null},"y":{"field":"v","type":"quantitative","scale":{"domain":[0,485],"range":[0,485]},"axis":null},"text":{"field":"t"}}},
{"data":{"values":[{"t":"6138 GF","u":614,"v":305},{"t":"1282 GF","u":613,"v":423},{"t":"pan-genome","u":596,"v":352},{"t":"20","u":136,"v":397}]},"mark":{"type":"text","fontSize":8.3,"align":"left","baseline":"middle","color":"black"},"encoding":{"x":{"field":"u","type":"quantitative","scale":{"domain":[0,645],"range":[0,645]},"axis":null},"y":{"field":"v","type":"quantitative","scale":{"domain":[0,485],"range":[0,485]},"axis":null},"text":{"field":"t"}}},
{"data":{"values":[{"t":"core-genome","u":599,"v":401}]},"mark":{"type":"text","fontSize":8,"align":"left","baseline":"middle","color":"black"},"encoding":{"x":{"field":"u","type":"quantitative","scale":{"domain":[0,645],"range":[0,645]},"axis":null},"y":{"field":"v","type":"quantitative","scale":{"domain":[0,485],"range":[0,485]},"axis":null},"text":{"field":"t"}}},
{"data":{"values":[{"t":"B. breve","u":509,"v":43},{"t":"B. breve","u":509,"v":163},{"t":"B. breve","u":410,"v":268}]},"mark":{"type":"text","fontSize":9.5,"fontStyle":"italic","align":"left","baseline":"middle","color":"black"},"encoding":{"x":{"field":"u","type":"quantitative","scale":{"domain":[0,645],"range":[0,645]},"axis":null},"y":{"field":"v","type":"quantitative","scale":{"domain":[0,485],"range":[0,485]},"axis":null},"text":{"field":"t"}}},
{"data":{"values":[{"t":"B. breve","u":565,"v":352},{"t":"B. breve","u":569,"v":401},{"t":"B. breve","u":146,"v":397}]},"mark":{"type":"text","fontSize":8.5,"fontStyle":"italic","align":"left","baseline":"middle","color":"black"},"encoding":{"x":{"field":"u","type":"quantitative","scale":{"domain":[0,645],"range":[0,645]},"axis":null},"y":{"field":"v","type":"quantitative","scale":{"domain":[0,485],"range":[0,485]},"axis":null},"text":{"field":"t"}}},
{"data":{"values":[{"t":"Mobile genetic","u":50,"v":356},{"t":"elements","u":50,"v":366},{"t":"(variome)","u":50,"v":376},{"t":"EPS cluster","u":248,"v":423},{"t":"(variome)","u":248,"v":434},{"t":"Mobile genetic","u":86,"v":461},{"t":"elements","u":86,"v":471},{"t":"(variome)","u":86,"v":481}]},"mark":{"type":"text","fontSize":8,"align":"center","baseline":"middle","color":"#c8141c"},"encoding":{"x":{"field":"u","type":"quantitative","scale":{"domain":[0,645],"range":[0,645]},"axis":null},"y":{"field":"v","type":"quantitative","scale":{"domain":[0,485],"range":[0,485]},"axis":null},"text":{"field":"t"}}},
{"data":{"values":[{"t":"Ribosomal","u":60,"v":322},{"t":"cluster","u":60,"v":332},{"t":"(core-genome)","u":60,"v":342}]},"mark":{"type":"text","fontSize":8,"align":"center","baseline":"middle","color":"#6b8e3a"},"encoding":{"x":{"field":"u","type":"quantitative","scale":{"domain":[0,645],"range":[0,645]},"axis":null},"y":{"field":"v","type":"quantitative","scale":{"domain":[0,485],"range":[0,485]},"axis":null},"text":{"field":"t"}}},
{"data":{"values":[{"t":"available genomes","u":359,"v":307},{"t":"73","u":344,"v":296}]},"mark":{"type":"text","fontSize":9,"align":"center","baseline":"middle","color":"#c8141c"},"encoding":{"x":{"field":"u","type":"quantitative","scale":{"domain":[0,645],"range":[0,645]},"axis":null},"y":{"field":"v","type":"quantitative","scale":{"domain":[0,485],"range":[0,485]},"axis":null},"text":{"field":"t"}}},
{"data":{"values":[{"t":"B. breve","u":350,"v":296}]},"mark":{"type":"text","fontSize":9,"fontStyle":"italic","align":"left","baseline":"middle","color":"#c8141c"},"encoding":{"x":{"field":"u","type":"quantitative","scale":{"domain":[0,645],"range":[0,645]},"axis":null},"y":{"field":"v","type":"quantitative","scale":{"domain":[0,485],"range":[0,485]},"axis":null},"text":{"field":"t"}}}
]}
